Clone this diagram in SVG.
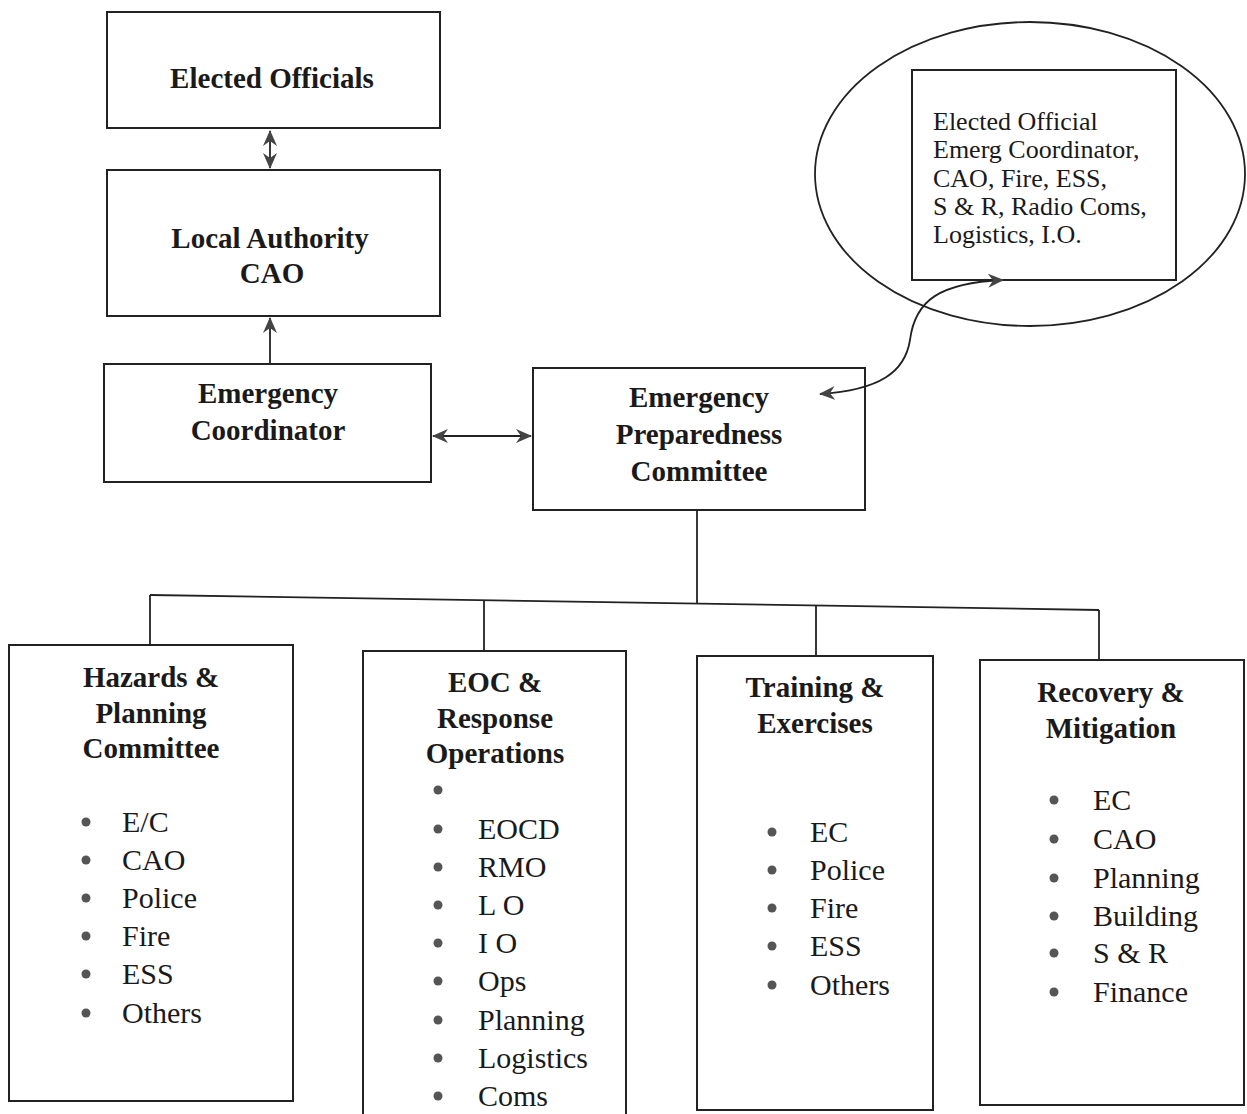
<svg xmlns="http://www.w3.org/2000/svg" width="1247" height="1114" viewBox="0 0 1247 1114">
<style>
.box{fill:#fff;stroke:#222;stroke-width:2}
.ln{fill:none;stroke:#222;stroke-width:1.8}
.t{font-family:"Liberation Serif","Times New Roman",serif;font-weight:bold;font-size:29px;fill:#1a1a1a;text-anchor:middle}
.li{font-family:"Liberation Serif","Times New Roman",serif;font-size:30px;fill:#1a1a1a}
.el{font-family:"Liberation Serif","Times New Roman",serif;font-size:26px;fill:#1a1a1a}
.b{fill:#555}
</style>
<defs>
<marker id="ah" viewBox="0 0 16 14" refX="15" refY="7" markerWidth="16" markerHeight="14" markerUnits="userSpaceOnUse" orient="auto-start-reverse">
<path d="M0,0 L16,7 L0,14 L5,7 z" fill="#444"/>
</marker>
</defs>
<rect width="1247" height="1114" fill="#fff"/>

<g id="elected-officials">
<rect class="box" x="107" y="12" width="333" height="116"/>
<text class="t" x="272" y="88">Elected Officials</text>
</g>

<g id="local-authority">
<rect class="box" x="107" y="170" width="333" height="146"/>
<text class="t" x="270" y="248">Local Authority</text>
<text class="t" x="272" y="283">CAO</text>
</g>

<g id="emergency-coordinator">
<rect class="box" x="104" y="364" width="327" height="118"/>
<text class="t" x="268" y="403">Emergency</text>
<text class="t" x="268" y="440">Coordinator</text>
</g>

<g id="epc">
<rect class="box" x="533" y="368" width="332" height="142"/>
<text class="t" x="699" y="407">Emergency</text>
<text class="t" x="699" y="444">Preparedness</text>
<text class="t" x="699" y="481">Committee</text>
</g>

<g id="membership">
<ellipse class="ln" cx="1030" cy="174" rx="215" ry="152"/>
<rect class="box" x="912" y="70" width="264" height="210"/>
<text class="el" x="933" y="130">Elected Official</text>
<text class="el" x="933" y="158">Emerg Coordinator,</text>
<text class="el" x="933" y="187">CAO, Fire, ESS,</text>
<text class="el" x="933" y="215">S &amp; R, Radio Coms,</text>
<text class="el" x="933" y="243">Logistics, I.O.</text>
</g>

<g id="hazards">
<rect class="box" x="9" y="645" width="284" height="456"/>
<text class="t" x="151" y="687">Hazards &amp;</text>
<text class="t" x="151" y="723">Planning</text>
<text class="t" x="151" y="758">Committee</text>
<circle class="b" cx="86" cy="822" r="4.5"/><text class="li" x="122" y="832">E/C</text>
<circle class="b" cx="86" cy="860" r="4.5"/><text class="li" x="122" y="870">CAO</text>
<circle class="b" cx="86" cy="898" r="4.5"/><text class="li" x="122" y="908">Police</text>
<circle class="b" cx="86" cy="936" r="4.5"/><text class="li" x="122" y="946">Fire</text>
<circle class="b" cx="86" cy="974" r="4.5"/><text class="li" x="122" y="984">ESS</text>
<circle class="b" cx="86" cy="1013" r="4.5"/><text class="li" x="122" y="1023">Others</text>
</g>

<g id="eoc">
<rect class="box" x="363" y="651" width="263" height="475"/>
<text class="t" x="495" y="692">EOC &amp;</text>
<text class="t" x="495" y="728">Response</text>
<text class="t" x="495" y="763">Operations</text>
<circle class="b" cx="438" cy="790" r="4.5"/>
<circle class="b" cx="438" cy="829" r="4.5"/><text class="li" x="478" y="839">EOCD</text>
<circle class="b" cx="438" cy="867" r="4.5"/><text class="li" x="478" y="877">RMO</text>
<circle class="b" cx="438" cy="905" r="4.5"/><text class="li" x="478" y="915">L O</text>
<circle class="b" cx="438" cy="943" r="4.5"/><text class="li" x="478" y="953">I O</text>
<circle class="b" cx="438" cy="981" r="4.5"/><text class="li" x="478" y="991">Ops</text>
<circle class="b" cx="438" cy="1020" r="4.5"/><text class="li" x="478" y="1030">Planning</text>
<circle class="b" cx="438" cy="1058" r="4.5"/><text class="li" x="478" y="1068">Logistics</text>
<circle class="b" cx="438" cy="1096" r="4.5"/><text class="li" x="478" y="1106">Coms</text>
</g>

<g id="training">
<rect class="box" x="697" y="656" width="236" height="454"/>
<text class="t" x="815" y="697">Training &amp;</text>
<text class="t" x="815" y="733">Exercises</text>
<circle class="b" cx="772" cy="832" r="4.5"/><text class="li" x="810" y="842">EC</text>
<circle class="b" cx="772" cy="870" r="4.5"/><text class="li" x="810" y="880">Police</text>
<circle class="b" cx="772" cy="908" r="4.5"/><text class="li" x="810" y="918">Fire</text>
<circle class="b" cx="772" cy="946" r="4.5"/><text class="li" x="810" y="956">ESS</text>
<circle class="b" cx="772" cy="985" r="4.5"/><text class="li" x="810" y="995">Others</text>
</g>

<g id="recovery">
<rect class="box" x="980" y="660" width="264" height="445"/>
<text class="t" x="1111" y="702">Recovery &amp;</text>
<text class="t" x="1111" y="738">Mitigation</text>
<circle class="b" cx="1054" cy="800" r="4.5"/><text class="li" x="1093" y="810">EC</text>
<circle class="b" cx="1054" cy="839" r="4.5"/><text class="li" x="1093" y="849">CAO</text>
<circle class="b" cx="1054" cy="878" r="4.5"/><text class="li" x="1093" y="888">Planning</text>
<circle class="b" cx="1054" cy="916" r="4.5"/><text class="li" x="1093" y="926">Building</text>
<circle class="b" cx="1054" cy="953" r="4.5"/><text class="li" x="1093" y="963">S &amp; R</text>
<circle class="b" cx="1054" cy="992" r="4.5"/><text class="li" x="1093" y="1002">Finance</text>
</g>

<g id="connectors">
<line class="ln" x1="270" y1="131" x2="270" y2="168" marker-start="url(#ah)" marker-end="url(#ah)"/>
<line class="ln" x1="270" y1="363" x2="270" y2="318" marker-end="url(#ah)"/>
<line class="ln" x1="433" y1="436" x2="531" y2="436" marker-start="url(#ah)" marker-end="url(#ah)"/>
<path class="ln" d="M820,394 C880,390 905,372 910,340 C915,300 940,283 1003,280" marker-start="url(#ah)" marker-end="url(#ah)"/>
<line class="ln" x1="697" y1="510" x2="697" y2="603"/>
<line class="ln" x1="150" y1="595" x2="1099" y2="610"/>
<line class="ln" x1="150" y1="595" x2="150" y2="645"/>
<line class="ln" x1="484" y1="600" x2="484" y2="651"/>
<line class="ln" x1="816" y1="605" x2="816" y2="656"/>
<line class="ln" x1="1099" y1="610" x2="1099" y2="660"/>
</g>
</svg>
